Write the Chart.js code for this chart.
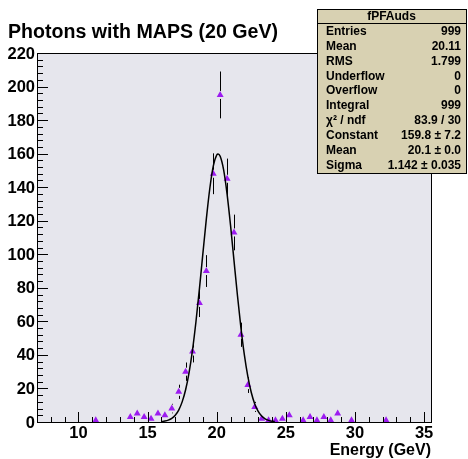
<!DOCTYPE html>
<html>
<head>
<meta charset="utf-8">
<script src="https://cdn.jsdelivr.net/npm/chart.js@4.4.1/dist/chart.umd.min.js"></script>
<style>
  html, body { margin: 0; padding: 0; background: #fff; overflow: hidden; }
  canvas { display: block; }
</style>
</head>
<body>
<canvas id="chart" width="468" height="459"></canvas>
<script>
// Histogram bins (bin centres, 0.5 GeV wide) and their contents
const energy = [11.25, 13.75, 14.25, 14.75, 15.25, 15.75, 16.25, 16.75, 17.25, 17.75,
                18.25, 18.75, 19.25, 19.75, 20.25, 20.75, 21.25, 21.75, 22.25, 22.75,
                23.25, 23.75, 24.25, 24.75, 25.25, 26.25, 26.75, 27.25, 27.75, 28.25,
                28.75, 29.75, 32.25];
const counts = [1, 3, 5, 3, 2, 5, 4, 8, 18, 30,
                42, 71, 90, 148, 195, 145, 113, 52, 22, 9,
                2, 1, 1, 2, 4, 1, 3, 1, 3, 1,
                5, 1, 1];

// Gaussian fit curve
const fitX = [16.0, 16.25, 16.5, 16.75, 17.0, 17.25, 17.5, 17.75, 18.0, 18.25, 18.5, 18.75,
              19.0, 19.25, 19.5, 19.75, 20.0, 20.1, 20.25, 20.5, 20.75, 21.0, 21.25, 21.5,
              21.75, 22.0, 22.25, 22.5, 22.75, 23.0, 23.25, 23.5, 23.75, 24.0, 24.2];
const fitY = [0.25, 0.54, 1.11, 2.16, 4.01, 7.1, 12.0, 19.2, 29.5, 43.0, 59.9, 79.5,
              100.5, 121.1, 139.2, 152.5, 159.2, 159.8, 158.4, 150.3, 135.9, 117.2, 96.2, 75.4,
              56.3, 40.0, 27.2, 17.6, 10.8, 6.36, 3.56, 1.9, 0.97, 0.47, 0.25];

// Axis tick labels
const xTicks = [10, 15, 20, 25, 30, 35];
const yTicks = [0, 20, 40, 60, 80, 100, 120, 140, 160, 180, 200, 220];

// Stats box text
const statTitle = 'fPFAuds';
const statLabels = ['Entries', 'Mean', 'RMS', 'Underflow', 'Overflow', 'Integral',
                    'χ² / ndf', 'Constant', 'Mean', 'Sigma'];
const statValues = ['999', '20.11', '1.799', '0', '0', '999',
                    '83.9 / 30', '159.8 ± 7.2', '20.1 ± 0.0', '1.142 ± 0.035'];

const FONT = '"Liberation Sans", Arial, Helvetica, sans-serif';
const MARKER = '#9c1cf0';

const rootStyle = {
    id: 'rootStyle',
    beforeDraw(chart) {
        const { ctx, chartArea: a } = chart;
        ctx.save();
        ctx.fillStyle = '#fff';
        ctx.fillRect(0, 0, chart.width, chart.height);
        ctx.fillStyle = '#e6e6ed';
        ctx.fillRect(a.left, a.top, a.right - a.left, a.bottom - a.top);
        ctx.restore();
    },
    beforeDatasetsDraw(chart) {
        // error bars (sqrt N), with a gap round the marker
        const { ctx, scales: { x, y } } = chart;
        ctx.save();
        ctx.strokeStyle = '#000';
        ctx.lineWidth = 1;
        energy.forEach((e, i) => {
            const c = counts[i], err = Math.sqrt(c);
            const px = Math.round(x.getPixelForValue(e)) + 0.5;
            const py = y.getPixelForValue(c);
            const top = y.getPixelForValue(c + err);
            const bot = y.getPixelForValue(Math.max(0, c - err));
            ctx.beginPath();
            if (py - 4 > top) { ctx.moveTo(px, top); ctx.lineTo(px, py - 4); }
            if (bot > py + 4) { ctx.moveTo(px, py + 4); ctx.lineTo(px, bot); }
            ctx.stroke();
        });
        ctx.restore();
    },
    afterDraw(chart) {
        const { ctx, chartArea: a, scales: { x, y } } = chart;
        ctx.save();
        // frame
        ctx.strokeStyle = '#000';
        ctx.lineWidth = 1;
        ctx.strokeRect(Math.round(a.left) + 0.5, Math.round(a.top) + 0.5,
                       Math.round(a.right - a.left), Math.round(a.bottom - a.top));

        // x ticks, pointing inward
        ctx.beginPath();
        for (let v = 7; v <= 35; v++) {
            const px = Math.round(x.getPixelForValue(v)) + 0.5;
            const len = v % 5 === 0 ? 10 : 5;
            ctx.moveTo(px, a.bottom);
            ctx.lineTo(px, a.bottom - len);
        }
        // y ticks
        for (let v = 0; v <= 220; v += 4) {
            const py = Math.round(y.getPixelForValue(v)) + 0.5;
            const len = v % 20 === 0 ? 11 : 6;
            ctx.moveTo(a.left, py);
            ctx.lineTo(a.left + len, py);
        }
        ctx.stroke();

        // tick labels
        ctx.fillStyle = '#000';
        ctx.font = 'bold 16.5px ' + FONT;
        ctx.textAlign = 'center';
        ctx.textBaseline = 'middle';
        xTicks.forEach(v => ctx.fillText(String(v), x.getPixelForValue(v), a.bottom + 11));
        ctx.textAlign = 'right';
        yTicks.forEach(v => ctx.fillText(String(v), a.left - 2, y.getPixelForValue(v) + 1));

        // axis title
        ctx.font = 'bold 16px ' + FONT;
        ctx.textAlign = 'right';
        ctx.fillText('Energy (GeV)', a.right, 451);

        // plot title
        ctx.font = 'bold 19.6px ' + FONT;
        ctx.textAlign = 'left';
        ctx.textBaseline = 'alphabetic';
        ctx.fillText('Photons with MAPS (20 GeV)', 8, 38);

        // stats box
        const bx = 317, by = 9, bw = 149, bh = 164;
        ctx.fillStyle = '#d8d1b2';
        ctx.fillRect(bx, by, bw, bh);
        ctx.strokeStyle = '#000';
        ctx.strokeRect(bx + 0.5, by + 0.5, bw, bh);
        ctx.beginPath();
        ctx.moveTo(bx, by + 14.5);
        ctx.lineTo(bx + bw, by + 14.5);
        ctx.stroke();
        ctx.fillStyle = '#000';
        ctx.font = 'bold 12px ' + FONT;
        ctx.textBaseline = 'middle';
        ctx.textAlign = 'center';
        ctx.fillText(statTitle, bx + bw / 2, by + 7.5);
        statLabels.forEach((lab, i) => {
            const ty = by + 22.5 + i * 14.9;
            ctx.textAlign = 'left';
            ctx.fillText(lab, bx + 9, ty);
            ctx.textAlign = 'right';
            ctx.fillText(statValues[i], bx + bw - 5, ty);
        });
        ctx.restore();
    }
};

new Chart(document.getElementById('chart'), {
    type: 'scatter',
    data: {
        datasets: [{
            label: 'fit',
            type: 'line',
            data: fitX.map((v, i) => ({ x: v, y: fitY[i] })),
            borderColor: '#000',
            borderWidth: 1.5,
            pointRadius: 0,
            fill: false,
            cubicInterpolationMode: 'monotone',
            order: 1
        }, {
            label: 'fPFAuds',
            data: energy.map((v, i) => ({ x: v, y: counts[i] })),
            pointStyle: 'triangle',
            pointRadius: 4,
            backgroundColor: MARKER,
            borderColor: MARKER,
            borderWidth: 0,
            order: 2
        }]
    },
    options: {
        responsive: false,
        animation: false,
        devicePixelRatio: 1,
        layout: { padding: { left: 37, right: 37, top: 53, bottom: 37 } },
        scales: {
            x: { type: 'linear', min: 7, max: 35.5, display: false },
            y: { type: 'linear', min: 0, max: 220, display: false }
        },
        plugins: { legend: { display: false }, tooltip: { enabled: false } }
    },
    plugins: [rootStyle]
});
</script>
</body>
</html>
